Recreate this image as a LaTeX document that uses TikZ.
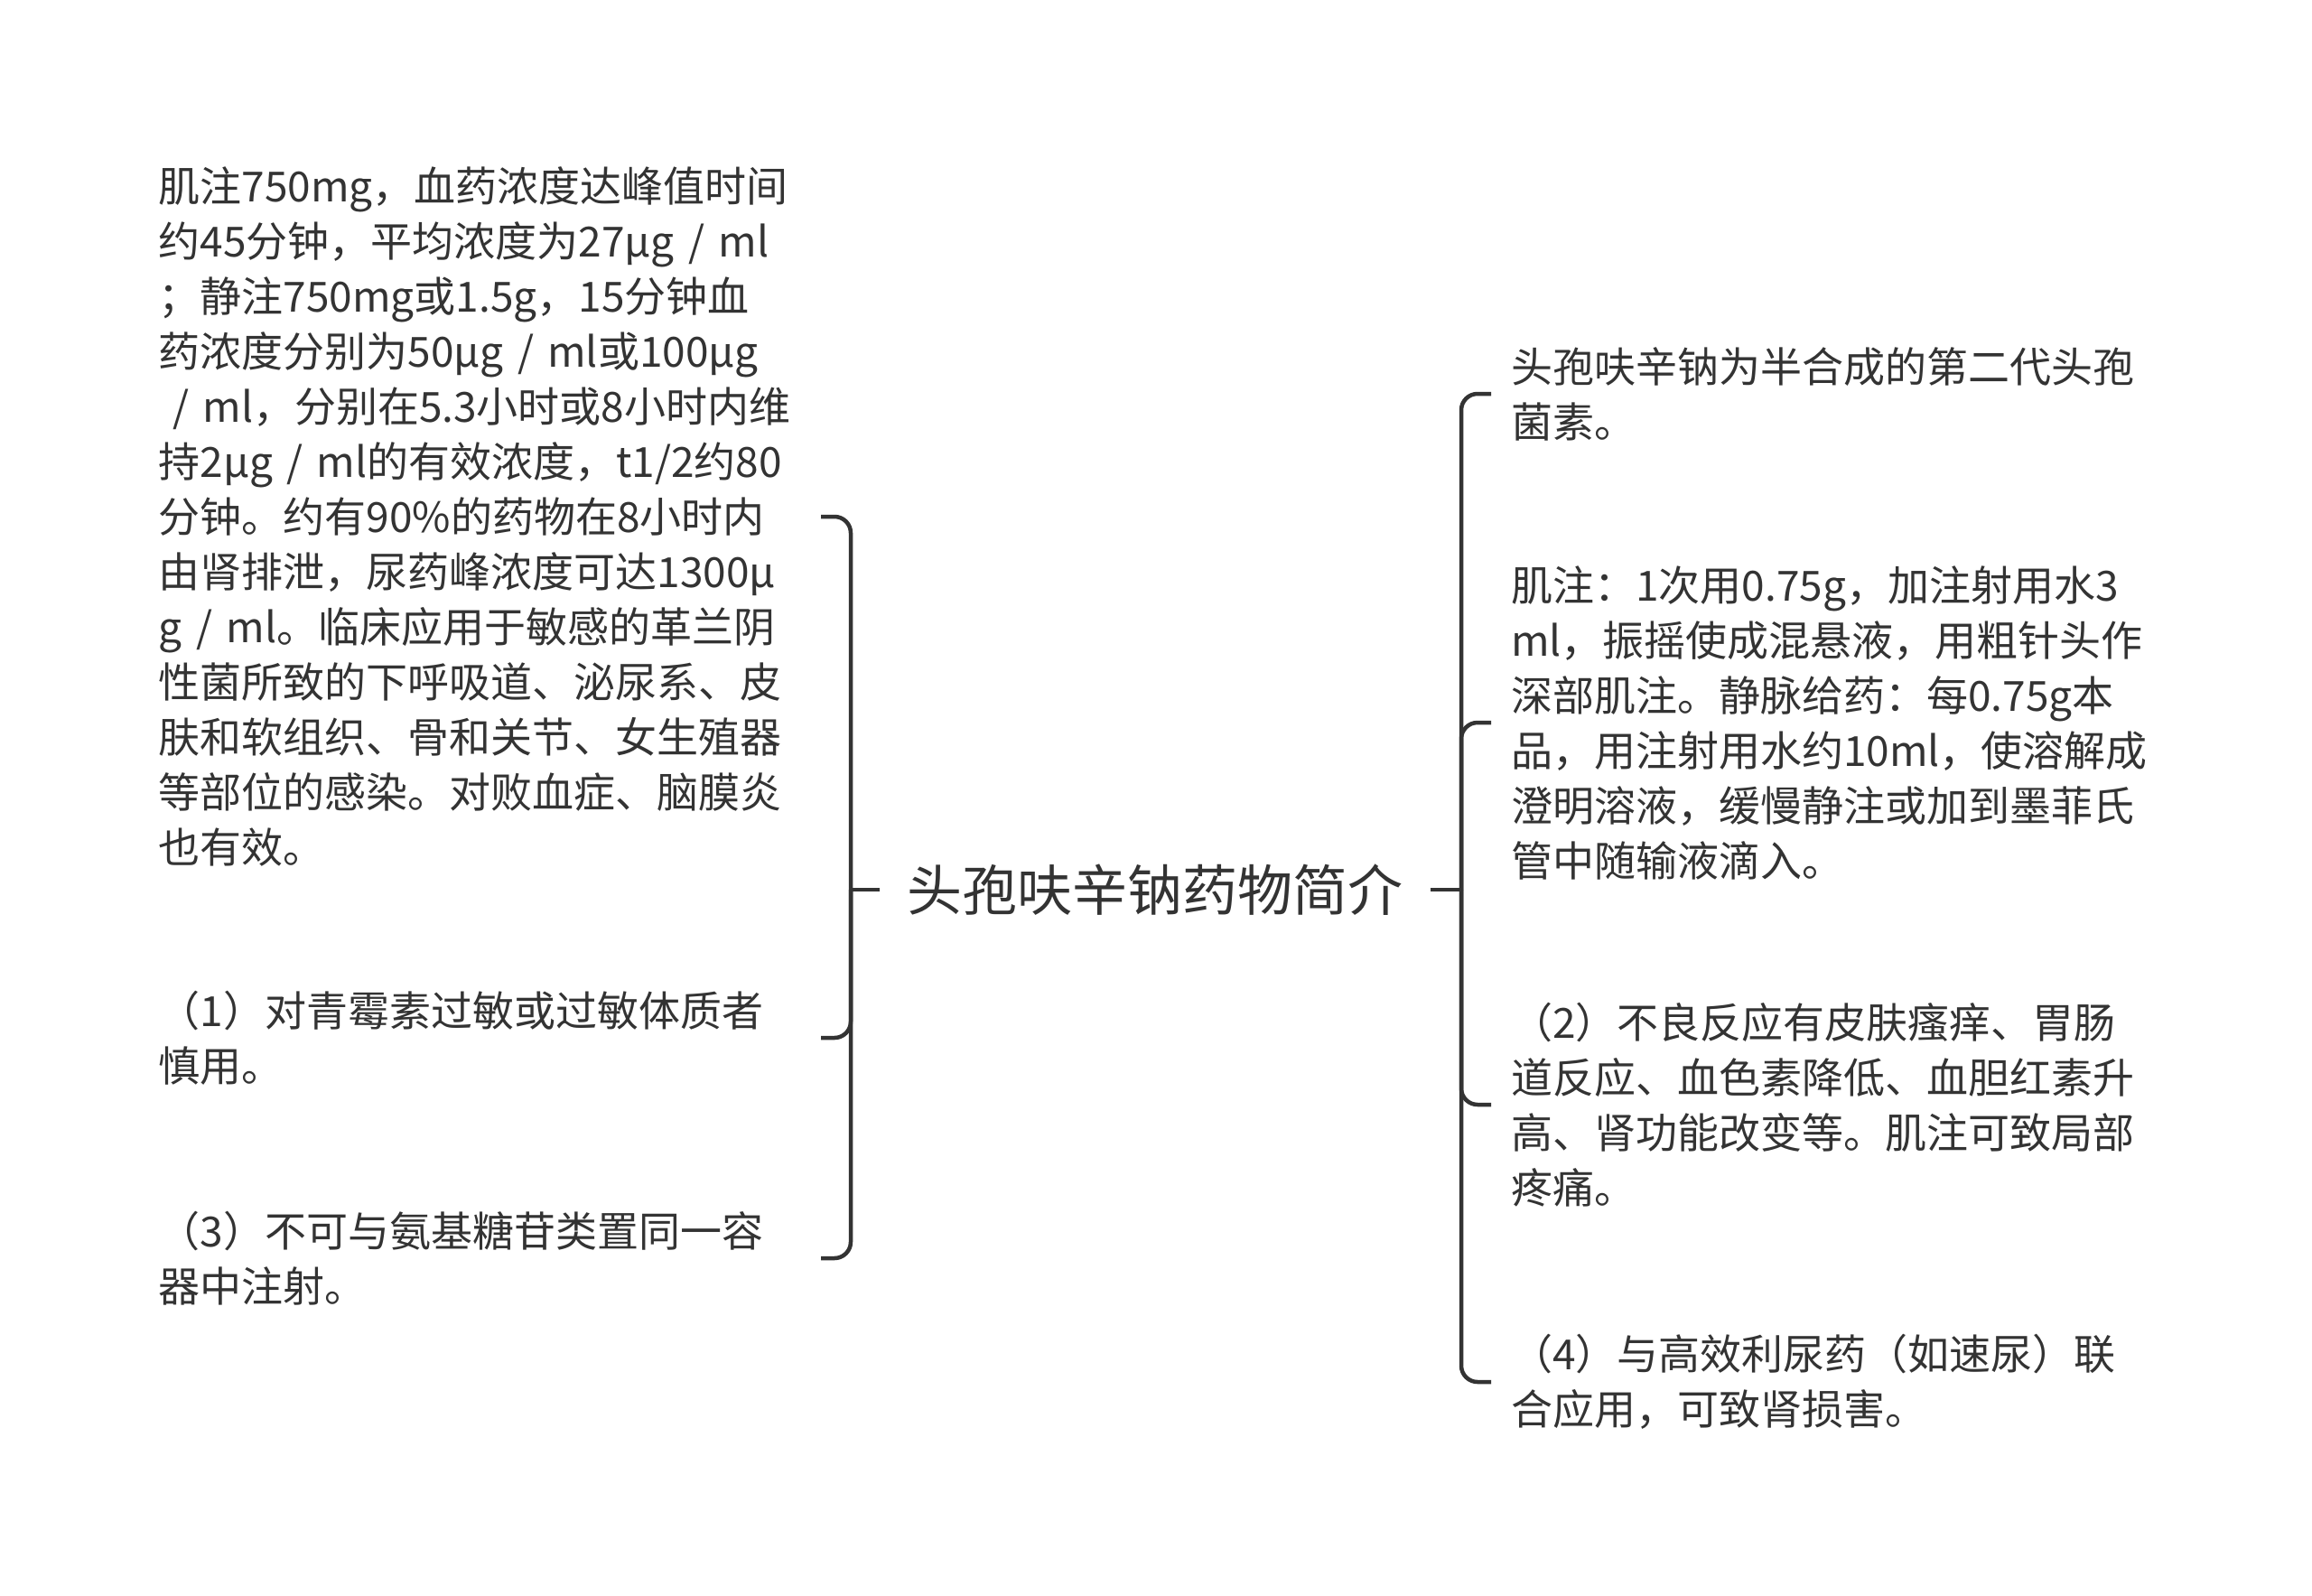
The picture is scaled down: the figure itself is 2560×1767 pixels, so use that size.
\documentclass[tikz,border=0pt]{standalone}
\usepackage{fontspec}
\setmainfont{Noto Sans CJK SC}
\definecolor{ink}{HTML}{333333}
\begin{document}
\begin{tikzpicture}[x=1pt,y=-1pt,
  conn/.style={draw=ink, line width=4.5pt},
  branch/.style={conn, rounded corners=18pt},
  centernode/.style={inner xsep=30pt, inner ysep=0pt, text=ink, font=\fontsize{61}{70}\selectfont},
  leafL/.style={anchor=east, inner sep=0pt, text width=733pt, align=left, text=ink, font=\fontsize{46}{61}\selectfont},
  leafR/.style={anchor=west, inner xsep=22pt, inner ysep=0pt, align=left, text=ink, font=\fontsize{46}{61}\selectfont}]
\useasboundingbox (0,0) rectangle (2560,1767);
\fill[white] (0,0) rectangle (2560,1767);

\node[centernode] (C) at (1279,985) {头孢呋辛钠药物简介};

\node[leafL] (L1) at (909,572) {肌注750mg，血药浓度达峰值时间\\约45分钟，平均浓度为27μg / ml\\；静注750mg或1.5g，15分钟血\\药浓度分别为50μg / ml或100μg\\\ / ml，分别在5.3小时或8小时内维\\持2μg / ml的有效浓度，t1/2约80\\分钟。约有90\%的药物在8小时内\\由肾排泄，尿药峰浓度可达1300μ\\g / ml。临床应用于敏感的革兰阴\\性菌所致的下呼吸道、泌尿系、皮\\肤和软组织、骨和关节、女生殖器\\等部位的感染。对败血症、脑膜炎\\也有效。};
\node[leafL] (L2) at (909,1149) {（1）对青霉素过敏或过敏体质者\\慎用。};
\node[leafL] (L3) at (909,1393) {（3）不可与氨基糖苷类置同一容\\器中注射。};

\node[leafR] (R1) at (1651,436) {头孢呋辛钠为半合成的第二代头孢\\菌素。};
\node[leafR] (R2) at (1651,800) {肌注：1次用0.75g，加注射用水3\\ml，振摇使成混悬液，用粗针头作\\深部肌注。静脉给药：每0.75g本\\品，用注射用水约10ml，使溶解成\\澄明溶液，缓慢静注或加到墨菲氏\\管中随输液滴入。};
\node[leafR] (R3) at (1651,1223) {（2）不良反应有皮肤瘙痒、胃肠\\道反应、血色素降低、血胆红素升\\高、肾功能改变等。肌注可致局部\\疼痛。};
\node[leafR] (R4) at (1651,1530) {（4）与高效利尿药（如速尿）联\\合应用，可致肾损害。};

\coordinate (JL) at (942,985);
\coordinate (JR) at (1618,985);
\draw[conn] (C.west) -- (JL);
\draw[conn] (C.east) -- (JR);
\draw[branch] (JL) |- (L1.east);
\draw[branch] (JL) |- (L2.east);
\draw[branch] (JL) |- (L3.east);
\draw[branch] (JR) |- (R1.west);
\draw[branch] (JR) |- (R2.west);
\draw[branch] (JR) |- (R3.west);
\draw[branch] (JR) |- (R4.west);
\end{tikzpicture}
\end{document}
